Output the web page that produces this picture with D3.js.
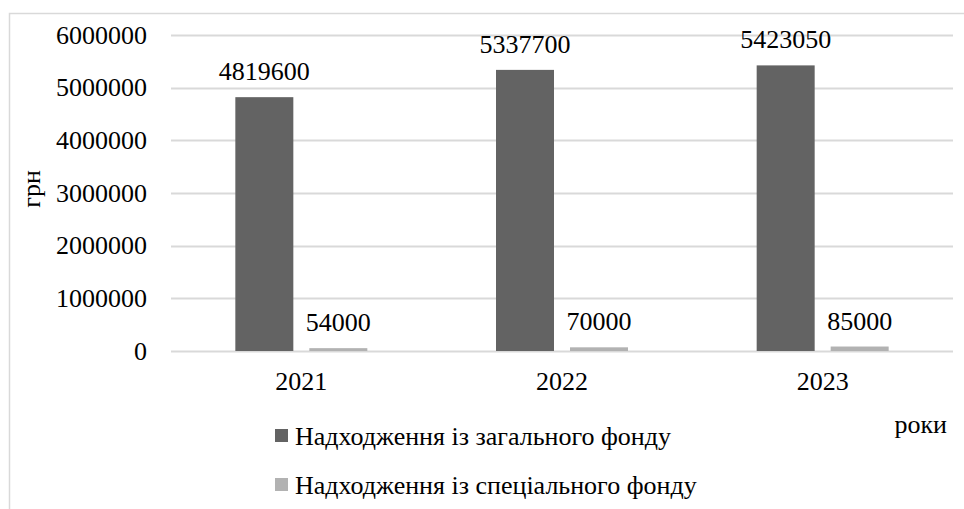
<!DOCTYPE html>
<html>
<head>
<meta charset="utf-8">
<script src="https://cdn.jsdelivr.net/npm/d3@7/dist/d3.min.js"></script>
</head>
<body style="margin:0">
<svg id="chart" width="964" height="509"></svg>
<script>
const years = ["2021", "2022", "2023"];
const seriesNames = ["Надходження із загального фонду", "Надходження із спеціального фонду"];
const generalFund = [4819600, 5337700, 5423050];
const specialFund = [54000, 70000, 85000];
const yTicks = [0, 1000000, 2000000, 3000000, 4000000, 5000000, 6000000];
const seriesColors = ["#636363", "#b2b2b2"];
const yTitle = "грн";
const xTitle = "роки";

const FAMILY = '"Liberation Serif", "Times New Roman", serif';

function draw() {
  const svg = d3.select("#chart");
  const W = 964, H = 509;
  const plot = { left: 171, right: 953, top: 35, bottom: 351 };

  function label(x, y, str, anchor, transform) {
    const t = svg.append("text")
      .attr("x", x).attr("y", y)
      .attr("text-anchor", anchor || "start");
    if (transform) t.attr("transform", transform);
    t.style("font-family", FAMILY).style("font-size", "26px").style("fill", "#000");
    t.text(str);
    return t;
  }

  // outer frame
  svg.append("rect")
    .attr("x", 9.5).attr("y", 13.5)
    .attr("width", W + 10).attr("height", H + 10)
    .attr("fill", "none").attr("stroke", "#d9d9d9").attr("stroke-width", 1.5);

  const x0 = d3.scaleBand().domain(years).range([plot.left, plot.right]).paddingInner(0).paddingOuter(0);
  const x1 = d3.scaleBand().domain([0, 1]).range([0, 132]).paddingInner(16 / 74).paddingOuter(0);
  const y = d3.scaleLinear().domain([0, 6000000]).range([plot.bottom, plot.top]);

  // gridlines
  svg.append("g").selectAll("line").data(yTicks).join("line")
    .attr("x1", plot.left).attr("x2", plot.right)
    .attr("y1", d => Math.round(y(d)) + 0.5).attr("y2", d => Math.round(y(d)) + 0.5)
    .attr("stroke", "#d9d9d9").attr("stroke-width", 2);

  // y tick labels (positions from the scale)
  const fmt = d3.format("d");
  yTicks.forEach(v => label(147, y(v) + 8.5, fmt(v), "end"));

  // x tick labels
  years.forEach(yr => label(x0(yr) + x0.bandwidth() / 2, 390, yr, "middle"));

  // bars
  years.forEach((yr, i) => {
    const gx = x0(yr) + x0.bandwidth() / 2 - 66;
    [generalFund[i], specialFund[i]].forEach((v, k) => {
      svg.append("rect")
        .attr("x", gx + x1(k))
        .attr("width", x1.bandwidth())
        .attr("y", y(v))
        .attr("height", y(0) - y(v))
        .attr("fill", seriesColors[k]);
    });
  });
  years.forEach((yr, i) => {
    const gx = x0(yr) + x0.bandwidth() / 2 - 66;
    [generalFund[i], specialFund[i]].forEach((v, k) => {
      label(gx + x1(k) + x1.bandwidth() / 2, y(v) - 17, String(v), "middle");
    });
  });

  // axis titles
  label(0, 0, yTitle, "middle", "translate(40,189) rotate(-90)");
  label(947, 433, xTitle, "end");

  // legend
  seriesNames.forEach((name, i) => {
    const yy = 429 + i * 49;
    svg.append("rect").attr("x", 275).attr("y", yy).attr("width", 13).attr("height", 13).attr("fill", seriesColors[i]);
    label(295, yy + 16, name, "start");
  });
}

if (document.fonts && document.fonts.load) {
  document.fonts.load('26px "Liberation Serif"').then(draw, draw);
} else {
  draw();
}
</script>
</body>
</html>
